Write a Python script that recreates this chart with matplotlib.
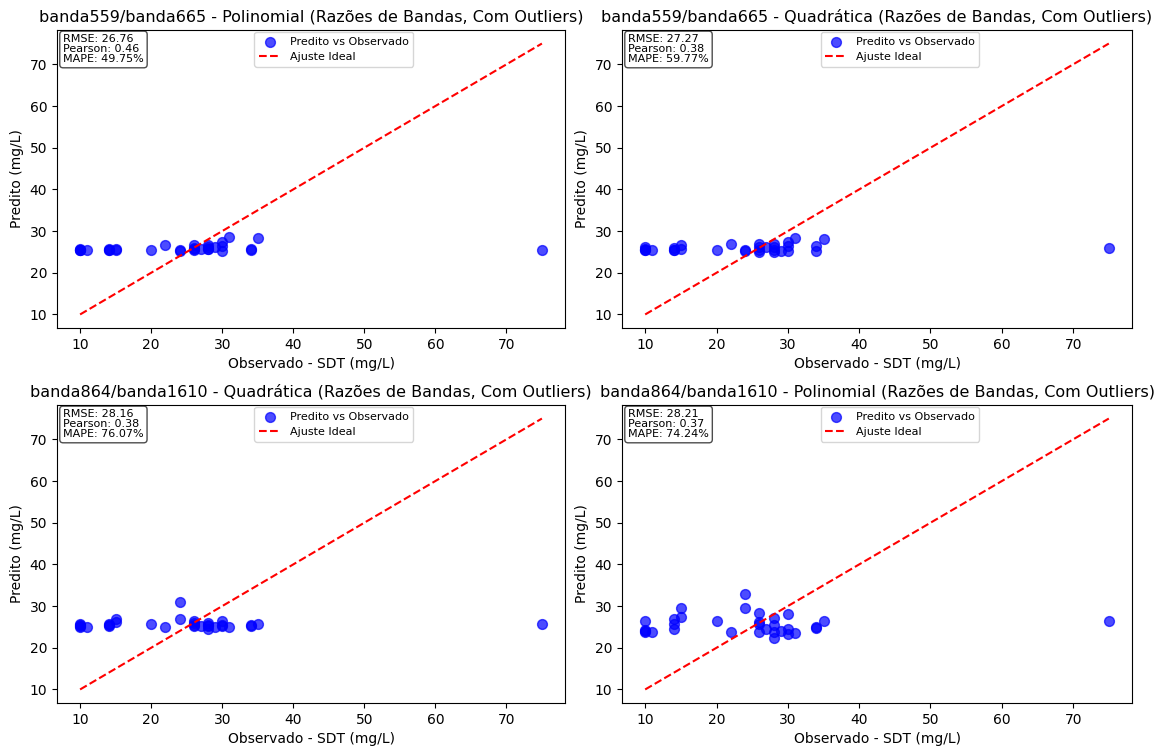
import matplotlib
matplotlib.use("Agg")
import matplotlib.pyplot as plt
import numpy as np

# Observed SDT values (mg/L), shared by all four models
observado = [10, 10, 10, 10, 11, 14, 14, 14, 15, 15, 20, 22, 24, 24,
             26, 26, 26, 26, 27, 28, 28, 28, 28, 29, 30, 30, 30, 31,
             34, 34, 35, 75]

# Predicted values per model
pred_559_665_poli = [25.5, 25.4, 25.6, 25.5, 25.4, 25.5, 25.4, 25.6, 25.7, 25.5,
                     25.4, 26.6, 25.4, 25.3, 26.7, 25.6, 26.0, 25.4, 25.6, 26.7,
                     25.6, 26.1, 25.8, 26.1, 27.4, 26.4, 25.3, 28.7, 25.6, 25.5,
                     28.3, 25.4]
pred_559_665_quad = [26.3, 25.4, 25.6, 25.4, 25.5, 25.9, 25.4, 25.5, 26.6, 25.7,
                     25.5, 27.0, 25.5, 25.3, 27.0, 26.1, 25.1, 25.4, 26.2, 27.0,
                     26.1, 25.1, 25.5, 25.2, 27.5, 26.4, 25.3, 28.3, 26.4, 25.3,
                     28.2, 26.0]
pred_864_1610_quad = [25.7, 25.0, 25.4, 25.2, 25.0, 25.8, 25.2, 25.5, 26.8, 26.2,
                      25.6, 25.0, 30.9, 26.8, 26.4, 25.2, 25.5, 25.9, 25.2, 25.9,
                      24.6, 25.2, 25.5, 25.0, 26.4, 25.2, 25.4, 25.0, 25.2, 25.4,
                      25.8, 25.8]
pred_864_1610_poli = [26.5, 24.3, 23.7, 24.0, 23.8, 26.8, 25.7, 24.6, 29.6, 27.3,
                      26.4, 23.9, 33.0, 29.6, 28.4, 26.2, 25.8, 23.7, 24.5, 27.1,
                      25.4, 23.7, 22.4, 24.1, 28.0, 24.5, 23.4, 23.5, 25.0, 24.8,
                      26.5, 26.4]

titulos = [
    "banda559/banda665 - Polinomial (Razões de Bandas, Com Outliers)",
    "banda559/banda665 - Quadrática (Razões de Bandas, Com Outliers)",
    "banda864/banda1610 - Quadrática (Razões de Bandas, Com Outliers)",
    "banda864/banda1610 - Polinomial (Razões de Bandas, Com Outliers)",
]
predicoes = [pred_559_665_poli, pred_559_665_quad,
             pred_864_1610_quad, pred_864_1610_poli]
rmse = [26.76, 27.27, 28.16, 28.21]
pearson = [0.46, 0.38, 0.38, 0.37]
mape = [49.75, 59.77, 76.07, 74.24]

fig = plt.figure(figsize=(11.6, 7.49), dpi=100)
W, H = 1160, 749
caixas = [(57, 30, 508, 298), (622, 30, 510, 298),
          (57, 405, 508, 298), (622, 405, 510, 298)]

obs = np.array(observado)
for i, (x0, y0, w, h) in enumerate(caixas):
    ax = fig.add_axes([x0 / W, 1 - (y0 + h) / H, w / W, h / H])
    ax.scatter(obs, predicoes[i], color="blue", alpha=0.7, s=50,
               label="Predito vs Observado")
    lim = [obs.min(), obs.max()]
    ax.plot(lim, lim, "r--", label="Ajuste Ideal")
    ax.set_title(titulos[i], fontsize=11.5)
    ax.set_xlabel("Observado - SDT (mg/L)")
    ax.set_ylabel("Predito (mg/L)")
    ax.legend(loc="upper center", bbox_to_anchor=(0.545, 1.0),
              borderaxespad=0.2, fontsize=8)
    txt = f"RMSE: {rmse[i]:.2f}\nPearson: {pearson[i]:.2f}\nMAPE: {mape[i]:.2f}%"
    ax.text(0.012, 0.985, txt, transform=ax.transAxes, fontsize=8,
            va="top", ha="left", linespacing=1.0,
            bbox=dict(boxstyle="round,pad=0.3", facecolor="white",
                      edgecolor="black", alpha=0.7))

fig.savefig("out.png", dpi=100)
